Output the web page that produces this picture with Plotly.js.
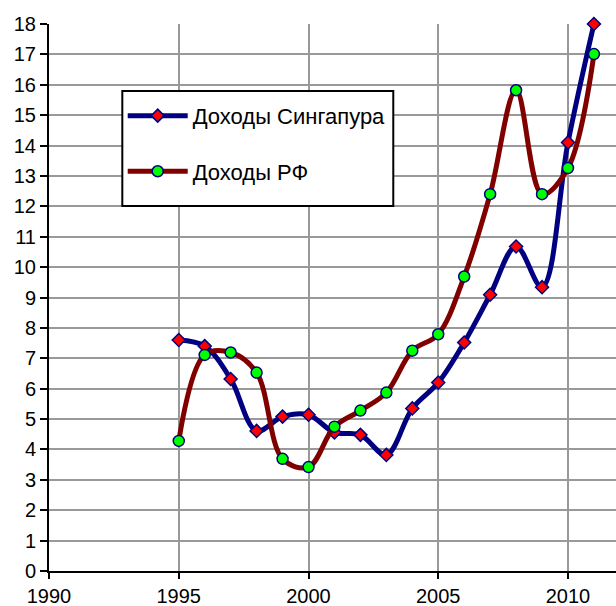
<!DOCTYPE html>
<html>
<head>
<meta charset="utf-8">
<script src="https://cdn.plot.ly/plotly-3.0.1.min.js"></script>
<style>html,body{margin:0;padding:0;background:#fff;}#chart{width:616px;height:606px;}</style>
</head>
<body>
<div id="chart"></div>
<script>
var years = [1995, 1996, 1997, 1998, 1999, 2000, 2001, 2002, 2003, 2004, 2005, 2006, 2007, 2008, 2009, 2010, 2011];
var singapore = [7.6, 7.4, 6.32, 4.61, 5.08, 5.14, 4.56, 4.48, 3.82, 5.35, 6.2, 7.52, 9.09, 10.68, 9.34, 14.1, 18.0];
var russia = [4.28, 7.11, 7.19, 6.53, 3.69, 3.42, 4.75, 5.28, 5.87, 7.25, 7.79, 9.69, 12.4, 15.82, 12.4, 13.26, 17.01];
var seriesNames = ["Доходы Сингапура", "Доходы РФ"];
var xTicks = [1990, 1995, 2000, 2005, 2010];
var yTicks = [0,1,2,3,4,5,6,7,8,9,10,11,12,13,14,15,16,17,18];

var font = "Arial, 'Liberation Sans', sans-serif";

var traces = [
  {
    x: years, y: singapore, name: seriesNames[0], type: "scatter", mode: "lines+markers",
    legendgroup: "a", cliponaxis: false,
    line: {color: "#000080", width: 5, shape: "spline", smoothing: 1},
    marker: {symbol: "diamond", size: 10, color: "#ff0000", line: {color: "#000080", width: 1.5}}
  },
  {
    x: years, y: russia, name: seriesNames[1], type: "scatter", mode: "lines+markers",
    legendgroup: "b", cliponaxis: false,
    line: {color: "#800000", width: 5, shape: "spline", smoothing: 1},
    marker: {symbol: "circle", size: 11, color: "#00ff00", line: {color: "#000080", width: 1.5}}
  }
];

var layout = {
  width: 616, height: 606,
  margin: {l: 49, r: 0, t: 24, b: 35, pad: 0},
  paper_bgcolor: "#ffffff", plot_bgcolor: "#ffffff",
  font: {family: font, size: 20, color: "#000"},
  showlegend: true,
  legend: {
    x: 0.13, y: 0.8705, xanchor: "left", yanchor: "top",
    bgcolor: "rgba(0,0,0,0)", borderwidth: 0,
    font: {family: font, size: 22, color: "#000"},
    traceorder: "grouped", tracegroupgap: 24, itemwidth: 60
  },
  shapes: [{
    type: "rect", xref: "paper", yref: "paper",
    x0: 0.1293, x1: 0.6072, y0: 0.6673, y1: 0.8775,
    line: {color: "#000", width: 2}, fillcolor: "#ffffff", layer: "above"
  }],
  xaxis: {
    range: [1990, 2011.85], tickvals: xTicks, ticktext: xTicks.map(String),
    showgrid: true, gridcolor: "#999999", gridwidth: 2,
    showline: true, linecolor: "#000", linewidth: 2,
    ticks: "outside", ticklen: 6, tickwidth: 2, tickcolor: "#000",
    zeroline: false, tickfont: {family: font, size: 20, color: "#000"}
  },
  yaxis: {
    range: [0, 18], tickvals: yTicks, ticktext: yTicks.map(String),
    showgrid: true, gridcolor: "#999999", gridwidth: 2,
    showline: true, linecolor: "#000", linewidth: 2,
    ticks: "outside", ticklen: 7, tickwidth: 2, tickcolor: "#000",
    zeroline: false, tickfont: {family: font, size: 20, color: "#000"}
  }
};

Plotly.newPlot("chart", traces, layout, {staticPlot: true, displayModeBar: false});
</script>
</body>
</html>
